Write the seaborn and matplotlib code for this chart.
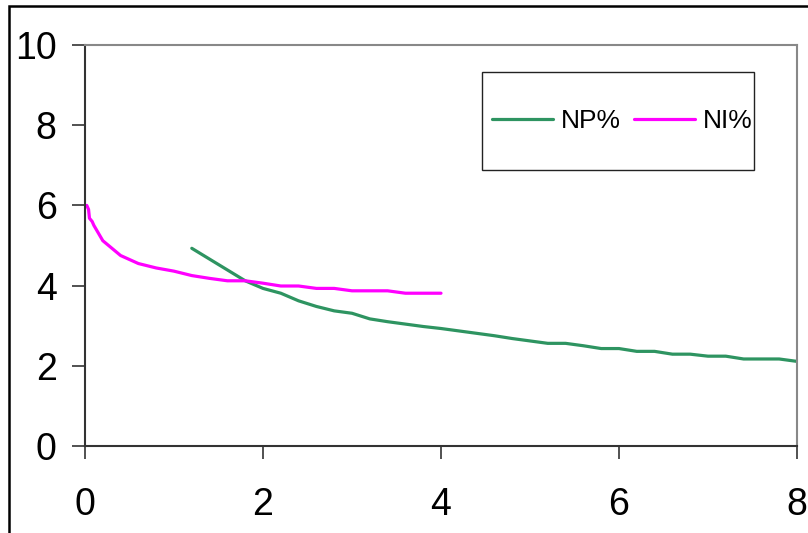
import pandas as pd
import seaborn as sns
import matplotlib.pyplot as plt
from matplotlib.patches import Rectangle

# data
np_x = [1.2, 1.4, 1.6, 1.8, 2.0, 2.2, 2.4, 2.6, 2.8, 3.0, 3.2, 3.4, 3.6, 3.8, 4.0,
        4.2, 4.4, 4.6, 4.8, 5.0, 5.2, 5.4, 5.6, 5.8, 6.0, 6.2, 6.4, 6.6, 6.8, 7.0,
        7.2, 7.4, 7.6, 7.8, 8.0]
np_y = [4.93, 4.66, 4.39, 4.12, 3.93, 3.81, 3.62, 3.48, 3.37, 3.31, 3.17, 3.10, 3.04, 2.98, 2.93,
        2.87, 2.81, 2.75, 2.68, 2.62, 2.56, 2.56, 2.50, 2.43, 2.43, 2.36, 2.36, 2.29, 2.29, 2.24,
        2.24, 2.17, 2.17, 2.17, 2.11]
ni_x = [0.02, 0.04, 0.05, 0.08, 0.1, 0.2, 0.4, 0.6, 0.8, 1.0, 1.2, 1.4, 1.6, 1.8, 2.0,
        2.2, 2.4, 2.6, 2.8, 3.0, 3.2, 3.4, 3.6, 3.8, 4.0]
ni_y = [6.0, 5.9, 5.68, 5.6, 5.5, 5.12, 4.75, 4.55, 4.44, 4.36, 4.25, 4.18, 4.12, 4.12, 4.06,
        3.99, 3.99, 3.93, 3.93, 3.87, 3.87, 3.87, 3.81, 3.81, 3.81]
series = ["NP%", "NI%"]
colors = {"NP%": "#2e9461", "NI%": "#ff00ff"}
x_ticks = [0, 2, 4, 6, 8]
y_ticks = [0, 2, 4, 6, 8, 10]

df = pd.concat([
    pd.DataFrame({"x": np_x, "y": np_y, "series": series[0]}),
    pd.DataFrame({"x": ni_x, "y": ni_y, "series": series[1]}),
])

sns.set_style("white")
plt.rcParams['font.family'] = ['Liberation Sans', 'DejaVu Sans']
plt.rcParams['text.color'] = 'black'

fig = plt.figure(figsize=(8.08, 5.33), dpi=100)
ax = fig.add_axes([85/808, 87/533, 712/808, 401/533])

sns.lineplot(data=df, x="x", y="y", hue="series", palette=colors, hue_order=series,
             estimator=None, sort=False, linewidth=2.3, ax=ax, legend=False)

ax.set_xlim(0, 8)
ax.set_ylim(0, 10)
ax.set_xticks(x_ticks)
ax.set_yticks(y_ticks)
ax.set_xlabel("")
ax.set_ylabel("")
ax.tick_params(axis="both", direction="out", length=9.4, width=1.2, labelsize=27,
               color="#333333", labelcolor="black", left=True, bottom=True)
ax.tick_params(axis="y", pad=11)
ax.tick_params(axis="x", pad=20)
for side in ["left", "bottom"]:
    ax.spines[side].set_color("#333333")
    ax.spines[side].set_linewidth(1.5)
for side in ["top", "right"]:
    ax.spines[side].set_color("#888888")
    ax.spines[side].set_linewidth(1.5)

# legend box drawn by hand, entries placed inside it
ax.add_patch(Rectangle((0.5576, 0.688), 0.382, 0.245, transform=ax.transAxes,
                       fill=False, edgecolor="#222222", linewidth=1.0, zorder=5))
handles = [plt.Line2D([], [], color=colors[s], linewidth=2.3) for s in series]
leg = ax.legend(handles, series, loc="center", bbox_to_anchor=(0.755, 0.81), ncol=2,
                frameon=False, fontsize=19, handlelength=2.3, handletextpad=0.3,
                columnspacing=0.5)
for t in leg.get_texts():
    t.set_color("black")

# outer chart frame
fig.patches.append(Rectangle((9/808, -0.1), 1.2, 1.1 - 6/533, transform=fig.transFigure,
                             fill=False, edgecolor="black", linewidth=1.8))

plt.savefig("out.png", dpi=100)
